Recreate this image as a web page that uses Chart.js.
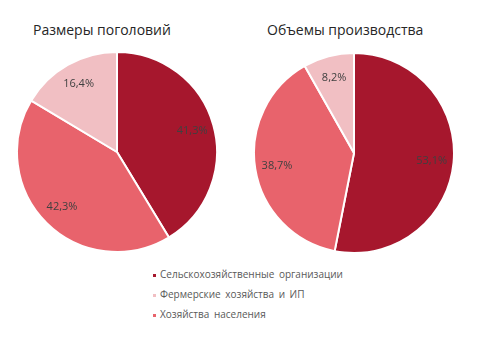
<!DOCTYPE html>
<html lang="ru">
<head>
<meta charset="utf-8">
<script src="https://cdn.jsdelivr.net/npm/chart.js@4/dist/chart.umd.min.js"></script>
<style>
  html, body { margin: 0; padding: 0; background: #fff; }
  body { width: 486px; height: 346px; position: relative; overflow: hidden; font-family: "Open Sans", sans-serif; }
  .box { position: absolute; width: 202px; height: 202px; }
  .title { position: absolute; font-size: 14px; color: #262626; white-space: nowrap; }
  #legend { position: absolute; left: 153px; top: 265px; font-size: 10px; color: #595959; word-spacing: 2px; }
  #legend div { height: 20px; line-height: 18px; white-space: nowrap; }
  #legend span { display: inline-block; width: 3px; height: 3px; margin-right: 4px; vertical-align: middle; }
</style>
</head>
<body>
<div class="title" id="t1" style="left:33px; top:20px;"></div>
<div class="title" id="t2" style="left:267px; top:20px;"></div>
<div class="box" style="left:16px; top:51px;"><canvas id="c1"></canvas></div>
<div class="box" style="left:253px; top:52px;"><canvas id="c2"></canvas></div>
<div id="legend"></div>
<script>
// доли в порядке по часовой стрелке от 12 часов
const categories = ["Сельскохозяйственные  организации", "Хозяйства  населения", "Фермерские  хозяйства  и ИП"];
const colors = ["#a6172d", "#e8636c", "#f1bfc3"];
const legendOrder = [0, 2, 1];

const titles = ["Размеры поголовий", "Объемы производства"];
const herdShares = [41.3, 42.3, 16.4];
const outputShares = [53.1, 38.7, 8.2];

// подписи процентов внутри секторов
const sliceLabels = {
    id: "sliceLabels",
    afterDatasetsDraw(chart) {
        const ctx = chart.ctx;
        const meta = chart.getDatasetMeta(0);
        const values = chart.data.datasets[0].data;
        ctx.save();
        ctx.font = "11px 'Open Sans', sans-serif";
        ctx.fillStyle = "#404040";
        ctx.textAlign = "center";
        ctx.textBaseline = "middle";
        meta.data.forEach((arc, i) => {
            const p = arc.getProps(["x", "y", "startAngle", "endAngle", "outerRadius"]);
            const a = (p.startAngle + p.endAngle) / 2;
            const r = p.outerRadius * 0.78;
            const txt = values[i].toFixed(1).replace(".", ",") + "%";
            ctx.fillText(txt, p.x + Math.cos(a) * r, p.y + Math.sin(a) * r);
        });
        ctx.restore();
    }
};

function makePie(id, values) {
    return new Chart(document.getElementById(id), {
        type: "pie",
        data: {
            labels: categories,
            datasets: [{
                data: values,
                backgroundColor: colors,
                borderColor: "#ffffff",
                borderWidth: 2
            }]
        },
        options: {
            responsive: true,
            maintainAspectRatio: false,
            animation: false,
            plugins: {
                legend: { display: false },
                tooltip: { enabled: false }
            }
        },
        plugins: [sliceLabels]
    });
}

document.getElementById("t1").textContent = titles[0];
document.getElementById("t2").textContent = titles[1];
makePie("c1", herdShares);
makePie("c2", outputShares);

const legend = document.getElementById("legend");
for (const i of legendOrder) {
    const row = document.createElement("div");
    const mark = document.createElement("span");
    mark.style.background = colors[i];
    row.appendChild(mark);
    row.appendChild(document.createTextNode(categories[i]));
    legend.appendChild(row);
}
</script>
</body>
</html>
